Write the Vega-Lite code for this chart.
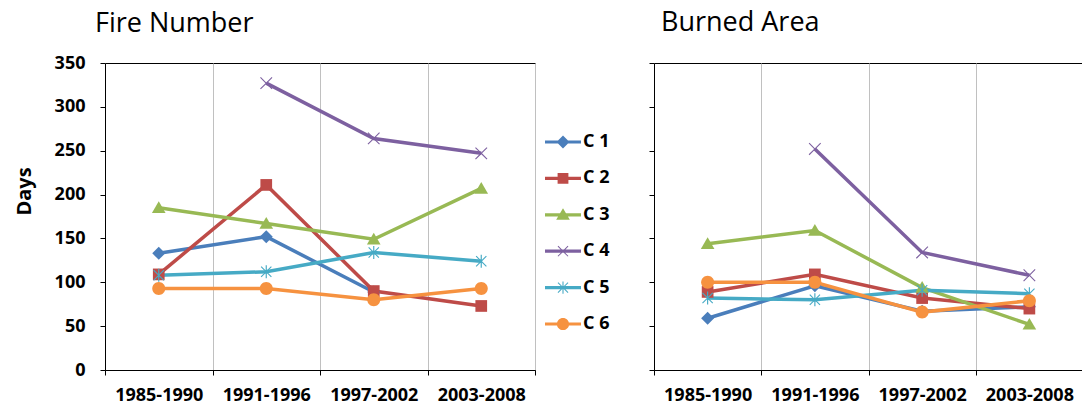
{
  "$schema": "https://vega.github.io/schema/vega-lite/v6.json",
  "padding": {"left": 13, "top": 8, "right": 0, "bottom": 0},
  "spacing": 112,
  "config": {
    "font": "Open Sans",
    "view": {"stroke": "#000000", "strokeWidth": 1},
    "axis": {
      "domainColor": "#000000",
      "tickColor": "#000000",
      "labelColor": "#000000",
      "titleColor": "#000000",
      "labelFont": "Open Sans",
      "titleFont": "Open Sans",
      "labelFontWeight": "bold",
      "labelFontSize": 18,
      "tickSize": 5,
      "gridColor": "#c0c0c0",
      "gridWidth": 1
    },
    "title": {
      "font": "Open Sans",
      "fontSize": 27,
      "fontWeight": "normal",
      "anchor": "start",
      "frame": "group",
      "color": "#000000"
    }
  },
  "datasets": {
    "fire": [
      {"period": "1985-1990", "series": "C 1", "days": 133},
      {"period": "1991-1996", "series": "C 1", "days": 152},
      {"period": "1997-2002", "series": "C 1", "days": 89},
      {"period": "1985-1990", "series": "C 2", "days": 109},
      {"period": "1991-1996", "series": "C 2", "days": 211},
      {"period": "1997-2002", "series": "C 2", "days": 90},
      {"period": "2003-2008", "series": "C 2", "days": 73},
      {"period": "1985-1990", "series": "C 3", "days": 185},
      {"period": "1991-1996", "series": "C 3", "days": 167},
      {"period": "1997-2002", "series": "C 3", "days": 149},
      {"period": "2003-2008", "series": "C 3", "days": 207},
      {"period": "1991-1996", "series": "C 4", "days": 327},
      {"period": "1997-2002", "series": "C 4", "days": 264},
      {"period": "2003-2008", "series": "C 4", "days": 247},
      {"period": "1985-1990", "series": "C 5", "days": 108},
      {"period": "1991-1996", "series": "C 5", "days": 112},
      {"period": "1997-2002", "series": "C 5", "days": 134},
      {"period": "2003-2008", "series": "C 5", "days": 124},
      {"period": "1985-1990", "series": "C 6", "days": 93},
      {"period": "1991-1996", "series": "C 6", "days": 93},
      {"period": "1997-2002", "series": "C 6", "days": 80},
      {"period": "2003-2008", "series": "C 6", "days": 93}
    ],
    "burned": [
      {"period": "1985-1990", "series": "C 1", "days": 59},
      {"period": "1991-1996", "series": "C 1", "days": 96},
      {"period": "1997-2002", "series": "C 1", "days": 67},
      {"period": "2003-2008", "series": "C 1", "days": 72},
      {"period": "1985-1990", "series": "C 2", "days": 89},
      {"period": "1991-1996", "series": "C 2", "days": 109},
      {"period": "1997-2002", "series": "C 2", "days": 82},
      {"period": "2003-2008", "series": "C 2", "days": 70},
      {"period": "1985-1990", "series": "C 3", "days": 144},
      {"period": "1991-1996", "series": "C 3", "days": 159},
      {"period": "1997-2002", "series": "C 3", "days": 94},
      {"period": "2003-2008", "series": "C 3", "days": 52},
      {"period": "1991-1996", "series": "C 4", "days": 252},
      {"period": "1997-2002", "series": "C 4", "days": 134},
      {"period": "2003-2008", "series": "C 4", "days": 108},
      {"period": "1985-1990", "series": "C 5", "days": 82},
      {"period": "1991-1996", "series": "C 5", "days": 80},
      {"period": "1997-2002", "series": "C 5", "days": 91},
      {"period": "2003-2008", "series": "C 5", "days": 87},
      {"period": "1985-1990", "series": "C 6", "days": 100},
      {"period": "1991-1996", "series": "C 6", "days": 100},
      {"period": "1997-2002", "series": "C 6", "days": 66},
      {"period": "2003-2008", "series": "C 6", "days": 79}
    ]
  },
  "hconcat": [
    {
      "width": 430,
      "height": 307,
      "title": {"text": "Fire Number", "dx": -10, "offset": 16},
      "data": {"name": "fire"},
      "encoding": {
        "x": {
          "field": "period",
          "type": "nominal",
          "scale": {"type": "band", "paddingInner": 0, "paddingOuter": 0},
          "axis": {"title": null, "tickBand": "extent", "grid": true, "labelAngle": 0, "labelPadding": 11}
        },
        "y": {
          "field": "days",
          "type": "quantitative",
          "scale": {"domain": [0, 350], "nice": false},
          "axis": {
            "title": "Days",
            "values": [0, 50, 100, 150, 200, 250, 300, 350],
            "grid": false,
            "labelPadding": 15,
            "titleFontSize": 20,
            "titleFontWeight": "bold",
            "titlePadding": 20,
            "titleY": 128
          }
        }
      },
      "layer": [
        {
          "mark": {"type": "line", "strokeWidth": 3.5},
          "encoding": {
            "color": {
              "field": "series",
              "type": "nominal",
              "scale": {
                "domain": ["C 1", "C 2", "C 3", "C 4", "C 5", "C 6"],
                "range": ["#4A7EBB", "#BE4B48", "#98B954", "#7D60A0", "#46AAC5", "#F69240"]
              }
            }
          }
        },
        {
          "mark": {"type": "point", "filled": true, "opacity": 1, "size": 169},
          "encoding": {
            "color": {"field": "series", "type": "nominal"},
            "shape": {
              "condition": [
                {"test": "datum.series === 'C 1'", "value": "M0,-1L1,0L0,1L-1,0Z"},
                {"test": "datum.series === 'C 2'", "value": "M-0.9,-0.9H0.9V0.9H-0.9Z"},
                {"test": "datum.series === 'C 3'", "value": "M0,-1L1.05,0.8H-1.05Z"},
                {"test": "datum.series === 'C 4'", "value": "M-0.95,-0.83L-0.83,-0.95L0,-0.12L0.83,-0.95L0.95,-0.83L0.12,0L0.95,0.83L0.83,0.95L0,0.12L-0.83,0.95L-0.95,0.83L-0.12,0Z"},
                {"test": "datum.series === 'C 5'", "value": "M-0.85,-0.73L-0.73,-0.85L0,-0.12L0.73,-0.85L0.85,-0.73L0.12,0L0.85,0.73L0.73,0.85L0,0.12L-0.73,0.85L-0.85,0.73L-0.12,0ZM-0.09,-1H0.09V1H-0.09Z"}
              ],
              "value": "M-1,0A1,1,0,1,1,1,0A1,1,0,1,1,-1,0Z"
            }
          }
        },
        {
          "transform": [{"filter": "datum.days < 0"}],
          "mark": {"type": "point", "filled": true, "opacity": 1},
          "encoding": {
            "color": {
              "field": "series",
              "type": "nominal",
              "legend": {
                "title": null,
                "orient": "none",
                "legendX": 440,
                "legendY": 61,
                "symbolSize": 1296,
                "symbolStrokeWidth": 0,
                "symbolOpacity": 1,
                "labelFont": "Open Sans",
                "labelFontSize": 18,
                "labelFontWeight": "bold",
                "labelColor": "#000000",
                "labelOffset": 2,
                "rowPadding": 9.4
              }
            },
            "shape": {
              "field": "series",
              "type": "nominal",
              "scale": {
                "domain": ["C 1", "C 2", "C 3", "C 4", "C 5", "C 6"],
                "range": [
                  "M-1,-0.09H1V0.09H-1ZM0,-0.36L0.36,0L0,0.36L-0.36,0Z",
                  "M-1,-0.09H1V0.09H-1ZM-0.3,-0.3H0.3V0.3H-0.3Z",
                  "M-1,-0.09H1V0.09H-1ZM0,-0.36L0.38,0.28H-0.38Z",
                  "M-1,-0.09H1V0.09H-1ZM-0.3,-0.26L-0.26,-0.3L0,-0.04L0.26,-0.3L0.3,-0.26L0.04,0L0.3,0.26L0.26,0.3L0,0.04L-0.26,0.3L-0.3,0.26L-0.04,0Z",
                  "M-1,-0.09H1V0.09H-1ZM-0.3,-0.26L-0.26,-0.3L0,-0.04L0.26,-0.3L0.3,-0.26L0.04,0L0.3,0.26L0.26,0.3L0,0.04L-0.26,0.3L-0.3,0.26L-0.04,0ZM-0.03,-0.34H0.03V0.34H-0.03Z",
                  "M-1,-0.09H1V0.09H-1ZM-0.34,0A0.34,0.34,0,1,1,0.34,0A0.34,0.34,0,1,1,-0.34,0Z"
                ]
              },
              "legend": {
                "title": null,
                "orient": "none",
                "legendX": 440,
                "legendY": 61,
                "symbolSize": 1296,
                "symbolStrokeWidth": 0,
                "symbolOpacity": 1,
                "labelFont": "Open Sans",
                "labelFontSize": 18,
                "labelFontWeight": "bold",
                "labelColor": "#000000",
                "labelOffset": 2,
                "rowPadding": 9.4
              }
            }
          }
        }
      ]
    },
    {
      "width": 429,
      "height": 307,
      "title": {"text": "Burned Area", "dx": 7, "offset": 26},
      "data": {"name": "burned"},
      "encoding": {
        "x": {
          "field": "period",
          "type": "nominal",
          "scale": {"type": "band", "paddingInner": 0, "paddingOuter": 0},
          "axis": {"title": null, "tickBand": "extent", "grid": true, "labelAngle": 0, "labelPadding": 11}
        },
        "y": {
          "field": "days",
          "type": "quantitative",
          "scale": {"domain": [0, 350], "nice": false},
          "axis": {
            "title": null,
            "labels": false,
            "values": [0, 50, 100, 150, 200, 250, 300, 350],
            "grid": false
          }
        },
        "color": {"field": "series", "type": "nominal"}
      },
      "layer": [
        {"mark": {"type": "line", "strokeWidth": 3.5}},
        {
          "mark": {"type": "point", "filled": true, "opacity": 1, "size": 169},
          "encoding": {
            "shape": {
              "condition": [
                {"test": "datum.series === 'C 1'", "value": "M0,-1L1,0L0,1L-1,0Z"},
                {"test": "datum.series === 'C 2'", "value": "M-0.9,-0.9H0.9V0.9H-0.9Z"},
                {"test": "datum.series === 'C 3'", "value": "M0,-1L1.05,0.8H-1.05Z"},
                {"test": "datum.series === 'C 4'", "value": "M-0.95,-0.83L-0.83,-0.95L0,-0.12L0.83,-0.95L0.95,-0.83L0.12,0L0.95,0.83L0.83,0.95L0,0.12L-0.83,0.95L-0.95,0.83L-0.12,0Z"},
                {"test": "datum.series === 'C 5'", "value": "M-0.85,-0.73L-0.73,-0.85L0,-0.12L0.73,-0.85L0.85,-0.73L0.12,0L0.85,0.73L0.73,0.85L0,0.12L-0.73,0.85L-0.85,0.73L-0.12,0ZM-0.09,-1H0.09V1H-0.09Z"}
              ],
              "value": "M-1,0A1,1,0,1,1,1,0A1,1,0,1,1,-1,0Z"
            }
          }
        }
      ]
    }
  ]
}
